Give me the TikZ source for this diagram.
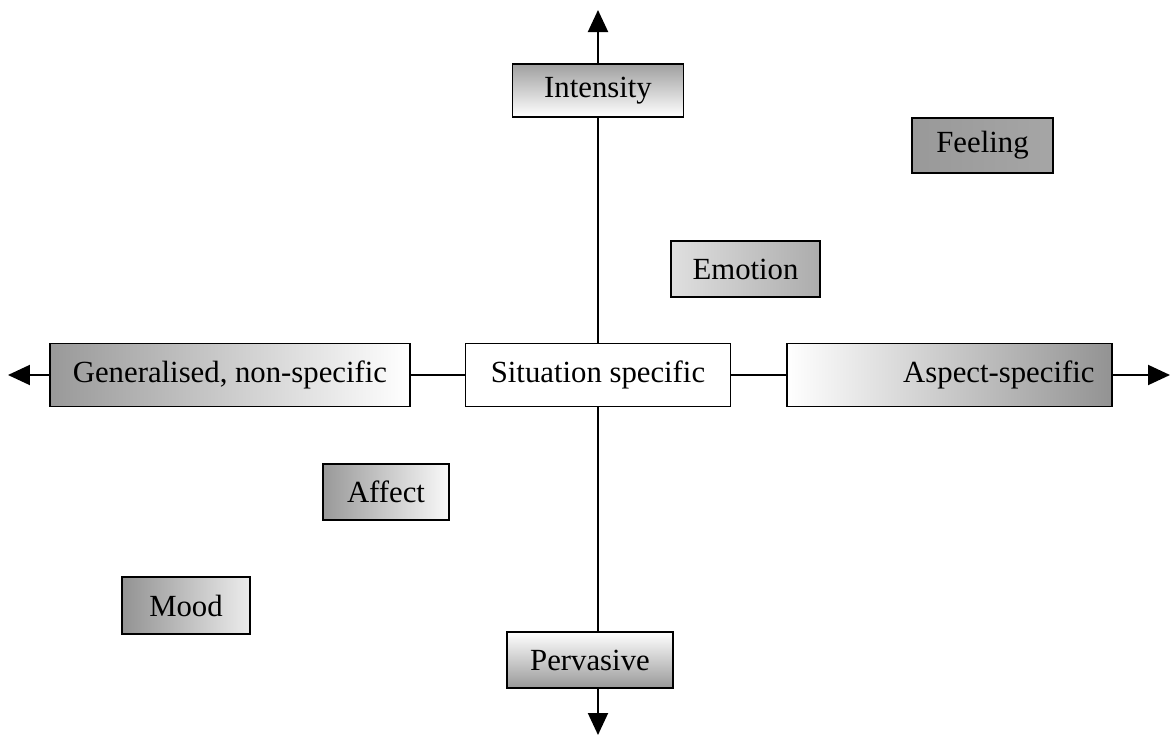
\documentclass[tikz,border=0pt]{standalone}
\usepackage{fontspec}
\setmainfont{Liberation Serif}
\usetikzlibrary{arrows.meta, positioning}

\begin{document}
\begin{tikzpicture}[box/.style={rectangle, draw, line width=1pt, inner sep=0pt, align=center, font=\fontsize{17.5}{21}\selectfont},
    axis/.style={line width=1.1pt, -{Triangle[length=0.44cm, width=0.4cm]}}]

            \useasboundingbox (-11.96,-7.24) rectangle (11.5,7.5);

            \node[box, fill=white, minimum width=5.3cm, minimum height=1.26cm] (sit) at (0,0) {Situation specific};
            \node[box, left color=gray!80, right color=white, minimum width=7.2cm, minimum height=1.26cm] (gen) at (-7.36,0) {Generalised, non-specific};
            \node[box, left color=white, right color=gray!85, text width=5.8cm, align=right, minimum height=1.26cm, inner xsep=0.35cm] (asp) at (7.03,0) {Aspect-specific};
            \node[box, top color=gray!75, bottom color=white, minimum width=3.42cm, minimum height=1.06cm] (int) at (0,5.69) {Intensity};
            \node[box, top color=white, bottom color=gray!80, minimum width=3.32cm, minimum height=1.12cm] (per) at (-0.16,-5.7) {Pervasive};

            \node[box, left color=gray!80, middle color=gray!25, right color=gray!70, minimum width=2.82cm, minimum height=1.1cm] (feel) at (7.69,4.59) {Feeling};
            \node[box, left color=gray!25, right color=gray!65, minimum width=2.98cm, minimum height=1.12cm] (emo) at (2.95,2.12) {Emotion};
            \node[box, left color=gray!80, right color=gray!5, minimum width=2.52cm, minimum height=1.12cm] (aff) at (-4.24,-2.34) {Affect};
            \node[box, left color=gray!85, right color=gray!15, minimum width=2.56cm, minimum height=1.14cm] (mood) at (-8.24,-4.61) {Mood};

            \coordinate (top) at (0,7.3);
            \coordinate (bot) at (0,-7.2);
            \coordinate (lft) at (-11.8,0);
            \coordinate (rgt) at (11.44,0);

            % axes
            \draw[line width=1.1pt] (int.south) -- (sit.north);
            \draw[line width=1.1pt] (sit.south) -- (sit.south |- per.north);
            \draw[line width=1.1pt] (gen.east) -- (sit.west);
            \draw[line width=1.1pt] (sit.east) -- (asp.west);
            \draw[axis] (int.north) -- (top);
            \draw[axis] (sit.south |- per.south) -- (bot);
            \draw[axis] (gen.west) -- (lft);
            \draw[axis] (asp.east) -- (rgt);

        \end{tikzpicture}
\end{document}
